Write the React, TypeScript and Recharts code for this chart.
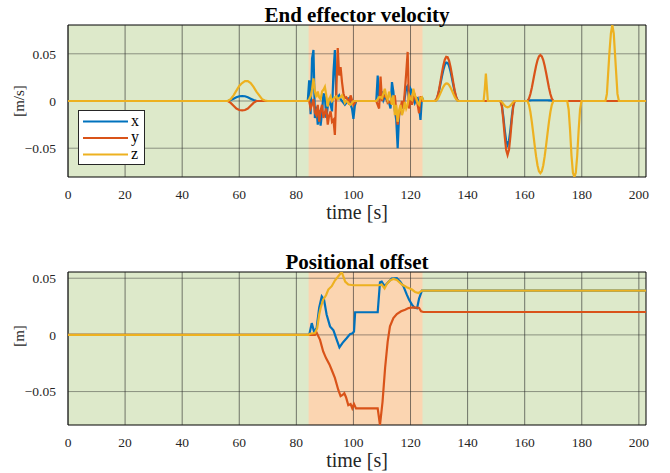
import React from 'react';
import { LineChart, Line, XAxis, YAxis, ReferenceArea, ReferenceLine } from 'recharts';

// ---- End effector velocity (shared time grid) ----
const velTime = [
  0,
  56, 57, 58, 59, 60, 61, 62, 63, 64, 65, 66, 67, 68, 69, 70,
  84, 84.5, 85, 85.5, 86, 86.5, 87, 87.5, 88, 88.5, 89, 89.5, 90, 90.5, 91, 91.5, 92, 92.5, 93, 93.5, 94, 94.5, 95, 95.5, 96, 96.5, 97, 97.5, 98, 98.5, 99, 99.5, 100, 100.5, 101,
  108, 108.5, 109, 109.5, 110, 110.5, 111, 111.5, 112, 112.5, 113, 113.5, 114, 114.5, 115, 115.5, 116, 116.5, 117, 117.5, 118, 118.5, 119, 119.5, 120, 120.5, 121, 121.5, 122, 122.5, 123, 123.5, 124, 124.5,
  128.5, 129, 129.5, 130, 130.5, 131, 131.5, 132, 132.5, 133, 133.5, 134, 134.5, 135, 135.5, 136, 136.5, 137,
  145.6, 146, 146.4, 146.8, 147.1,
  151.5, 152, 152.5, 153, 153.5, 154, 154.5, 155, 155.5, 156, 156.5,
  160.8, 161, 161.5, 162, 162.5, 163, 163.5, 164, 164.5, 165, 165.5, 166, 166.5, 167, 167.5, 168, 168.5, 169, 169.5, 170, 170.2,
  174.9, 175.4, 175.9, 176.4, 176.9, 177.4, 177.9, 178.4, 178.9, 179.4, 179.9,
  188.3, 188.8, 189.2, 189.7, 190.2, 190.7, 191.2, 191.6, 192.1, 192.5, 193,
  202.5,
];

const velX = [
  0,
  0, 0.001, 0.0025, 0.004, 0.005, 0.0053, 0.005, 0.004, 0.0025, 0.001, 0.0002, 0, 0, 0, 0,
  0, 0.022, -0.014, 0.045, 0.054, -0.018, -0.006, -0.025, -0.01, -0.026, -0.012, 0.008, 0.004, -0.018, -0.006, 0, -0.004, -0.011, 0.03, 0.054, 0.002, 0.004, 0.006, 0.002, 0, -0.002, -0.004, -0.002, 0.002, 0.003, -0.004, -0.008, -0.019, -0.005, 0,
  0, 0.027, 0.002, 0.006, 0.008, 0.001, 0.005, 0.002, 0, -0.002, -0.008, 0.02, 0.01, -0.01, -0.02, -0.05, -0.015, -0.006, -0.004, -0.008, 0.004, 0.014, 0.016, 0, 0.013, 0.01, 0.003, -0.002, 0.002, 0.003, -0.006, -0.02, 0.004, 0,
  0, 0.0009, 0.0047, 0.0107, 0.0182, 0.026, 0.0328, 0.0381, 0.0408, 0.0404, 0.0372, 0.0316, 0.0244, 0.0167, 0.0092, 0.0037, 0.0005, 0,
  0, 0, 0, 0, 0,
  0, -0.0044, -0.016, -0.0305, -0.0421, -0.0465, -0.0421, -0.0305, -0.016, -0.0044, 0,
  0, 0.0002, 0.0005, 0.0007, 0.0008, 0.0008, 0.0008, 0.0008, 0.0008, 0.0008, 0.0008, 0.0008, 0.0008, 0.0008, 0.0008, 0.0008, 0.0007, 0.0006, 0.0004, 0.0002, 0,
  0, 0, 0, 0, 0, 0, 0, 0, 0, 0, 0,
  0, 0, 0, 0, 0, 0, 0, 0, 0, 0, 0,
  0,
];

const velY = [
  0,
  0, -0.002, -0.005, -0.008, -0.0095, -0.01, -0.0095, -0.008, -0.005, -0.002, 0, 0, 0, 0, 0,
  0, 0, -0.008, -0.004, 0.002, -0.012, -0.015, -0.004, -0.022, -0.01, -0.004, -0.018, -0.012, -0.008, -0.025, -0.015, -0.011, -0.022, -0.02, -0.036, 0.01, 0.056, 0.027, 0.036, 0.02, 0.008, 0.003, 0.004, 0.002, -0.004, 0.006, 0.001, -0.004, -0.002, 0,
  0, -0.004, -0.008, 0.026, 0, 0.006, 0.005, 0.004, -0.002, -0.001, -0.002, 0.001, 0, 0.006, -0.01, -0.025, -0.015, -0.008, 0, -0.008, 0.01, 0.03, 0.052, -0.008, 0.006, -0.004, 0.002, 0.006, 0.001, -0.004, -0.013, 0.005, 0, 0,
  0, 0.0011, 0.0054, 0.0122, 0.0208, 0.0298, 0.0376, 0.0437, 0.0467, 0.0463, 0.0427, 0.0362, 0.028, 0.0191, 0.0106, 0.0042, 0.0006, 0,
  0, 0, 0, 0, 0,
  0, -0.0054, -0.0197, -0.0373, -0.0516, -0.057, -0.0516, -0.0373, -0.0197, -0.0054, 0,
  0, 0.0002, 0.0026, 0.0074, 0.0141, 0.0219, 0.0299, 0.0373, 0.0434, 0.0472, 0.0486, 0.0472, 0.0434, 0.0373, 0.0299, 0.0219, 0.0141, 0.0074, 0.0026, 0.0002, 0,
  0, 0, 0, 0, 0, 0, 0, 0, 0, 0, 0,
  0, 0, 0, 0, 0, 0, 0, 0, 0, 0, 0,
  0,
];

const velZ = [
  0,
  0, 0.002, 0.006, 0.011, 0.016, 0.019, 0.021, 0.021, 0.019, 0.015, 0.01, 0.006, 0.002, 0.0005, 0,
  0, 0.002, 0.005, 0.012, 0.024, 0.01, 0.004, 0.01, 0.004, 0.002, 0.01, 0.012, 0.015, 0.006, -0.006, 0.002, 0.005, 0, 0.002, 0.004, 0.005, 0.002, 0.003, 0.004, 0.006, 0.003, -0.002, 0, -0.001, -0.003, -0.004, -0.002, 0, 0, 0,
  0, 0.002, 0.004, 0.004, 0.003, 0.008, 0.013, 0.005, 0.001, 0.01, 0.004, -0.004, 0.006, -0.015, -0.004, -0.022, -0.01, -0.004, -0.015, -0.01, -0.001, -0.008, -0.004, 0.006, 0.002, 0.001, 0.013, 0.006, 0.003, -0.002, -0.004, 0.003, 0.004, 0,
  0, 0.0004, 0.0021, 0.0049, 0.0083, 0.0118, 0.015, 0.0174, 0.0186, 0.0184, 0.017, 0.0144, 0.0111, 0.0076, 0.0042, 0.0017, 0.0002, 0,
  0, 0.012, 0.029, 0.012, 0,
  0, -0.001, -0.003, -0.005, -0.0062, -0.0067, -0.0062, -0.005, -0.003, -0.001, 0,
  0, -0.0003, -0.0041, -0.0117, -0.0222, -0.0344, -0.047, -0.0587, -0.0683, -0.0744, -0.0765, -0.0744, -0.0683, -0.0587, -0.047, -0.0344, -0.0222, -0.0117, -0.0041, -0.0003, 0,
  0, -0.009, -0.031, -0.058, -0.076, -0.0805, -0.076, -0.058, -0.031, -0.009, 0,
  0, 0.0075, 0.0273, 0.0517, 0.0715, 0.0805, 0.0715, 0.0517, 0.0273, 0.0075, 0,
  0,
];

// ---- Positional offset (each series has its own breakpoints) ----
const offTimeX = [0, 84.5, 85.4, 86.2, 87.1, 88.0, 88.9, 89.7, 90.6, 91.8, 93.0, 94.1, 95.1, 96.2, 97.6, 98.8, 99.7, 100.2, 100.6, 108.5, 109.3, 109.9, 110.9, 112.0, 113.4, 115.2, 116.4, 117.5, 118.7, 119.5, 120.5, 121.4, 122.3, 123.0, 124.0, 124.5, 202.5];
const offX = [0, 0, 0.0104, 0.003, 0.006, 0.024, 0.034, 0.031, 0.018, 0.0075, 0.004, -0.004, -0.011, -0.007, -0.003, 0.0007, 0.0015, 0.003, 0.02, 0.02, 0.0464, 0.047, 0.043, 0.046, 0.0497, 0.05, 0.047, 0.043, 0.0355, 0.031, 0.0267, 0.024, 0.0235, 0.032, 0.039, 0.039, 0.039];

const offTimeY = [0, 86.5, 87.1, 88.3, 89.4, 90.4, 91.6, 92.4, 93.5, 94.7, 95.5, 96.2, 96.8, 97.4, 98.2, 99.0, 99.6, 100.2, 100.9, 108.5, 109.3, 110.2, 111.1, 112.0, 112.8, 114.0, 115.2, 116.7, 118.1, 119.3, 121.0, 122.2, 123.0, 123.7, 124.5, 202.5];
const offY = [0, 0, 0.002, -0.0044, -0.0146, -0.0205, -0.026, -0.031, -0.038, -0.0486, -0.054, -0.053, -0.0515, -0.055, -0.062, -0.061, -0.0647, -0.061, -0.0648, -0.0648, -0.0795, -0.059, -0.029, -0.006, 0.0075, 0.0148, 0.0184, 0.0208, 0.0222, 0.0237, 0.0243, 0.024, 0.0238, 0.0208, 0.0202, 0.0202];

const offTimeZ = [0, 84.2, 84.8, 86.5, 87.3, 88.0, 88.5, 89.4, 90.4, 91.2, 92.4, 93.5, 94.7, 95.9, 97.1, 98.2, 100.0, 108.8, 109.9, 110.9, 111.7, 112.8, 114.0, 115.2, 117.0, 118.7, 120.5, 121.6, 122.8, 123.4, 124.0, 202.5];
const offZ = [0, 0, 0.001, 0.0016, 0.006, 0.0178, 0.0237, 0.031, 0.035, 0.04, 0.043, 0.048, 0.0517, 0.0555, 0.047, 0.0444, 0.0438, 0.0438, 0.0444, 0.041, 0.045, 0.048, 0.0494, 0.0485, 0.0444, 0.042, 0.04, 0.0379, 0.037, 0.038, 0.039, 0.039];

const timeTicks = [0, 20, 40, 60, 80, 100, 120, 140, 160, 180, 200];
const valueTicks = [-0.05, 0, 0.05];
const activeWindow = [84.3, 124.2];
const T_MAX = 202.5;
const VEL_DOMAIN: [number, number] = [-0.0805, 0.0805];
const OFF_DOMAIN: [number, number] = [-0.0795, 0.0555];

const COLORS = { x: '#0072BD', y: '#D95319', z: '#EDB120' };
const FONT = '"Liberation Serif", "Times New Roman", serif';
const GREEN = '#dde9ca';
const ORANGE = '#fbd5b1';
const GRID = '#262626';

const velData = velTime.map((t, i) => ({ t, x: velX[i], y: velY[i], z: velZ[i] }));
const toPoints = (ts: number[], vs: number[]) => ts.map((t, i) => ({ t, v: vs[i] }));

const fmtValue = (v: number) => (v === 0 ? '0' : (v < 0 ? '\u2212' : '') + Math.abs(v).toString());

const tickStyle = { fontSize: 13.5, fill: '#262626', fontFamily: FONT };

type Series = { name: string; color: string; data?: any[]; dataKey: string };

const Panel = ({ top, height, margin, domain, data, series }: {
  top: number; height: number; margin: any; domain: [number, number]; data?: any[]; series: Series[];
}) => (
  <div style={{ position: 'absolute', left: 0, top, width: 670, height }}>
    <LineChart width={670} height={height} data={data} margin={margin}>
      <XAxis type="number" dataKey="t" domain={[0, T_MAX]} ticks={timeTicks} interval={0}
        allowDataOverflow axisLine={false} tickLine={false} tickMargin={6} height={30} tick={tickStyle} />
      <YAxis type="number" domain={domain} ticks={valueTicks} interval={0} allowDataOverflow
        axisLine={false} tickLine={false} tickMargin={6} width={68} tick={tickStyle} tickFormatter={fmtValue} />
      <ReferenceArea x1={0} x2={T_MAX} y1={domain[0]} y2={domain[1]} fill={GREEN} fillOpacity={1} stroke="none" />
      <ReferenceArea x1={activeWindow[0]} x2={activeWindow[1]} y1={domain[0]} y2={domain[1]} fill={ORANGE} fillOpacity={1} stroke="none" />
      {timeTicks.map((t) => (
        <ReferenceLine key={`gx${t}`} x={t} stroke={GRID} strokeOpacity={0.6} strokeWidth={1} />
      ))}
      {valueTicks.map((v) => (
        <ReferenceLine key={`gy${v}`} y={v} stroke={GRID} strokeOpacity={0.45} strokeWidth={1} />
      ))}
      <ReferenceArea x1={0} x2={T_MAX} y1={domain[0]} y2={domain[1]} fill="none" fillOpacity={0} stroke="#000" strokeWidth={1} />
      {series.map((s) => (
        <Line key={s.name} data={s.data} dataKey={s.dataKey} type="linear" stroke={s.color}
          strokeWidth={2.2} dot={false} isAnimationActive={false} />
      ))}
    </LineChart>
  </div>
);

const Title = ({ text, top }: { text: string; top: number }) => (
  <div style={{ position: 'absolute', left: 68, width: 578, top, textAlign: 'center', fontFamily: FONT,
    fontWeight: 'bold', fontSize: 21, lineHeight: '19px', color: '#000' }}>{text}</div>
);

const XLabel = ({ top }: { top: number }) => (
  <div style={{ position: 'absolute', left: 68, width: 578, top, textAlign: 'center', fontFamily: FONT,
    fontSize: 20, lineHeight: '14px', color: '#262626' }}>time [s]</div>
);

const YLabel = ({ text, cy }: { text: string; cy: number }) => (
  <div style={{ position: 'absolute', left: 19, top: cy, transform: 'translate(-50%, -50%) rotate(-90deg)',
    fontFamily: FONT, fontSize: 15, lineHeight: '15px', whiteSpace: 'nowrap', color: '#262626' }}>{text}</div>
);

const legendItems = [
  { name: 'x', color: COLORS.x },
  { name: 'y', color: COLORS.y },
  { name: 'z', color: COLORS.z },
];

const LegendBox = () => (
  <svg style={{ position: 'absolute', left: 78, top: 110 }} width={68} height={55}>
    <rect x={0.5} y={0.5} width={66} height={54} fill="#fff" stroke="#262626" strokeWidth={1} />
    {legendItems.map((it, i) => (
      <g key={it.name}>
        <line x1={5} x2={50} y1={11.5 + i * 16.5} y2={11.5 + i * 16.5} stroke={it.color} strokeWidth={2.2} />
        <text x={53} y={15.5 + i * 16.5} fontFamily={FONT} fontSize={16} fill="#000">{it.name}</text>
      </g>
    ))}
  </svg>
);

export default function App() {
  const velSeries: Series[] = [
    { name: 'x', color: COLORS.x, dataKey: 'x' },
    { name: 'y', color: COLORS.y, dataKey: 'y' },
    { name: 'z', color: COLORS.z, dataKey: 'z' },
  ];
  const offSeries: Series[] = [
    { name: 'x', color: COLORS.x, dataKey: 'v', data: toPoints(offTimeX, offX) },
    { name: 'y', color: COLORS.y, dataKey: 'v', data: toPoints(offTimeY, offY) },
    { name: 'z', color: COLORS.z, dataKey: 'v', data: toPoints(offTimeZ, offZ) },
  ];
  return (
    <div style={{ position: 'absolute', left: 0, top: 0, width: 670, height: 473, background: '#fff', overflow: 'hidden' }}>
      <Panel top={0} height={240} margin={{ top: 25, right: 24, bottom: 33, left: 0 }}
        domain={VEL_DOMAIN} data={velData} series={velSeries} />
      <Panel top={240} height={233} margin={{ top: 32, right: 24, bottom: 18, left: 0 }}
        domain={OFF_DOMAIN} series={offSeries} />
      <Title text="End effector velocity" top={6} />
      <Title text="Positional offset" top={253} />
      <XLabel top={205} />
      <XLabel top={453} />
      <YLabel text="[m/s]" cy={101} />
      <YLabel text="[m]" cy={336} />
      <LegendBox />
    </div>
  );
}
